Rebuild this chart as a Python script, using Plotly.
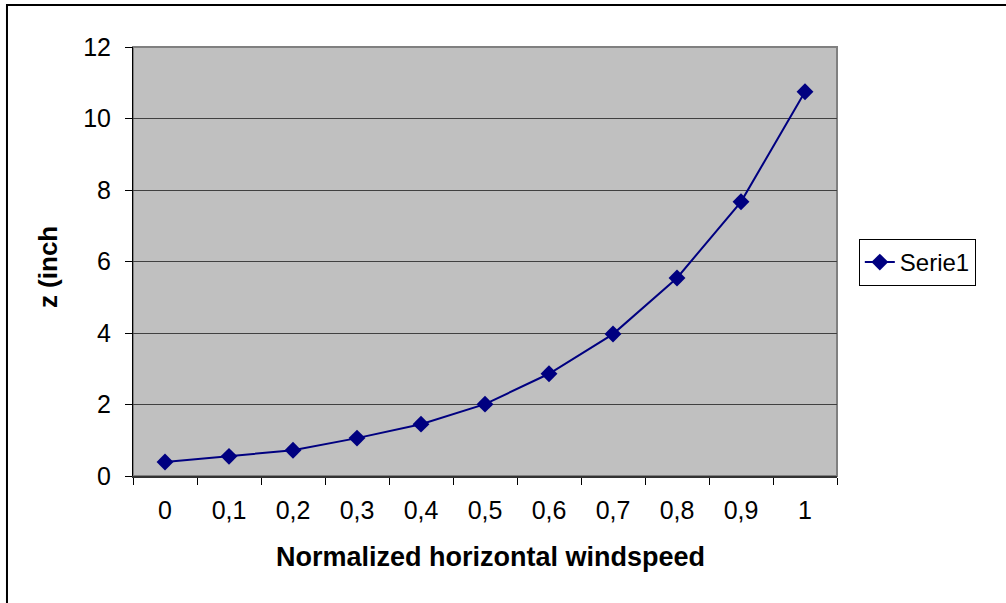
import plotly.graph_objects as go

categories = ["0", "0,1", "0,2", "0,3", "0,4", "0,5", "0,6", "0,7", "0,8", "0,9", "1"]
z_values = [0.39, 0.55, 0.72, 1.06, 1.45, 2.01, 2.86, 3.97, 5.54, 7.67, 10.75]
series_name = "Serie1"
x_title = "Normalized horizontal windspeed"
y_title = "z (inch"

FONT = "Liberation Sans, Arial, sans-serif"

fig = go.Figure()
fig.add_trace(go.Scatter(
    x=categories, y=z_values, mode="lines+markers", name=series_name,
    line=dict(color="#000080", width=2),
    marker=dict(symbol="diamond", size=13, color="#000080"),
))

fig.update_layout(
    width=1006, height=603,
    margin=dict(l=133, r=169, t=47, b=127),
    paper_bgcolor="white", plot_bgcolor="#C0C0C0",
    font=dict(family=FONT, size=25, color="black"),
    showlegend=True,
    legend=dict(x=1.031, y=0.5524, xanchor="left", yanchor="top",
                bgcolor="white", bordercolor="black", borderwidth=1,
                font=dict(size=24), itemwidth=30),
    xaxis=dict(type="category", tickson="boundaries", ticks="outside", ticklen=7,
               tickcolor="black", tickwidth=1, showgrid=False, showline=True,
               linecolor="#333333", linewidth=2, ticklabelstandoff=11,
               range=[-0.5, 10.5]),
    yaxis=dict(range=[0, 12], dtick=2, ticks="outside", ticklen=7, tickcolor="black",
               showgrid=True, gridcolor="#404040", gridwidth=1, zeroline=False,
               showline=True, linecolor="black", linewidth=1, ticklabelstandoff=9),
    annotations=[
        dict(text=x_title, xref="paper", yref="paper", x=0.5075, y=-0.189,
             showarrow=False, font=dict(size=27, family=FONT, weight="bold"),
             xanchor="center", yanchor="middle"),
        dict(text=y_title, xref="paper", yref="paper", x=-0.1207, y=0.487,
             showarrow=False, textangle=-90,
             font=dict(size=26, family=FONT, weight="bold"),
             xanchor="center", yanchor="middle"),
    ],
    shapes=[
        dict(type="rect", xref="paper", yref="paper", x0=0, x1=1, y0=0, y1=1,
             line=dict(color="#808080", width=2), layer="below"),
        dict(type="rect", xref="paper", yref="paper", x0=-0.179, x1=1.4,
             y0=-0.4, y1=1.098, line=dict(color="black", width=2), layer="below"),
    ],
)

fig.write_html("out.html")
